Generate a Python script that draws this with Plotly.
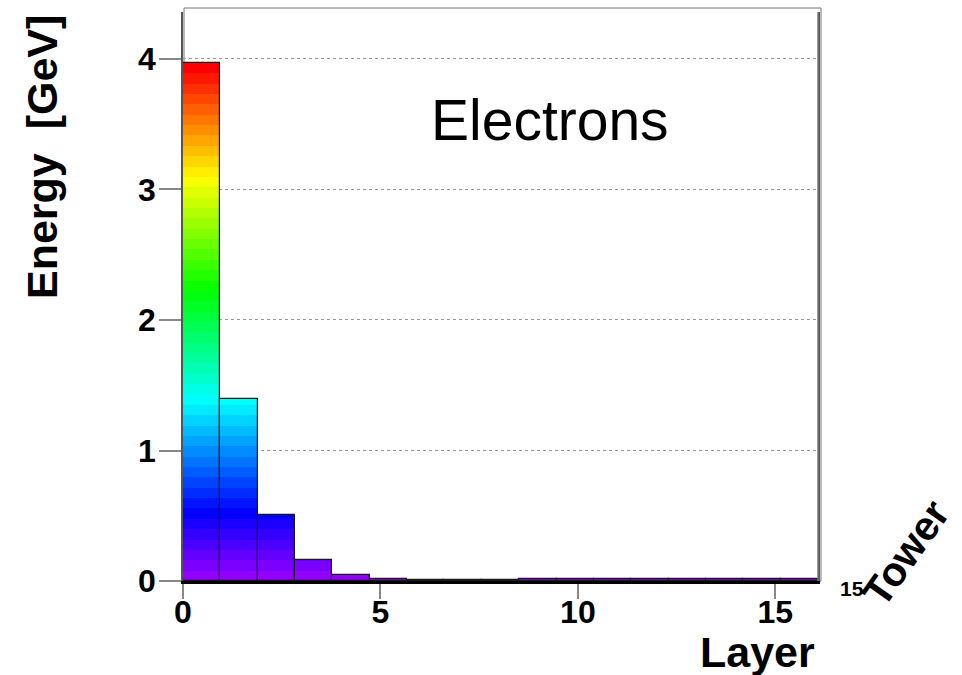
import colorsys
import numpy as np
import plotly.graph_objects as go

# Energy deposited per calorimeter layer (GeV), one bin per layer
layer_energy = [3.97, 1.395, 0.506, 0.161, 0.046, 0.014, 0.006, 0.004, 0.004,
                0.012, 0.012, 0.012, 0.012, 0.012, 0.012, 0.012, 0.012]
x_ticks = [0, 5, 10, 15]
y_ticks = [0, 1, 2, 3, 4]
tower_tick_label = "15"

X_MAX = 16.08
Y_MAX = 4.36
N_LEVELS = 50
FONT = "Liberation Sans, Arial, Helvetica, sans-serif"

values = np.array(layer_energy)
edges = np.linspace(0, X_MAX, len(values) + 1)
centers = 0.5 * (edges[:-1] + edges[1:])
width = edges[1] - edges[0]


def pretty_palette(i):
    # ROOT "pretty" palette: HLS hue from 280 down to 0, L=0.5, S=1
    hue = 280 - (i + 1) * (280 / N_LEVELS)
    r, g, b = colorsys.hls_to_rgb(hue / 360.0, 0.5, 1.0)
    return f"rgb({int(round(r*255))},{int(round(g*255))},{int(round(b*255))})"


fig = go.Figure()

# Colour bands: each bar is filled level by level according to its height
dz = values.max() / N_LEVELS
for k in range(N_LEVELS):
    lo = k * dz
    seg = np.clip(values - lo, 0, dz)
    mask = seg > 0
    if not mask.any():
        continue
    fig.add_trace(go.Bar(
        x=centers[mask], y=seg[mask], base=[lo] * int(mask.sum()),
        width=width, marker=dict(color=pretty_palette(k), line=dict(width=0)),
        hoverinfo="skip", showlegend=False,
    ))

# Outlines of the bins
fig.add_trace(go.Bar(
    x=centers, y=values, width=width,
    marker=dict(color="rgba(0,0,0,0)", line=dict(color="#1a1a1a", width=1.2)),
    showlegend=False, hoverinfo="skip",
))

W, H = 962, 675
L, R, T, B = 183, 818, 12, 581
pw, ph = R - L, B - T


def px(xp):
    return (xp - L) / pw


def py(yp):
    return (B - yp) / ph


annotations = [
    dict(text="Electrons", x=px(550), y=py(120), font=dict(size=57, color="black", family=FONT)),
    dict(text="<b>Energy  [GeV]</b>", x=px(42), y=py(157), textangle=-90,
         font=dict(size=43, color="black", family=FONT)),
    dict(text="<b>Layer</b>", x=px(817), y=py(652), xanchor="right",
         font=dict(size=43, color="black", family=FONT)),
    dict(text="<b>Tower</b>", x=px(906), y=py(553), textangle=-55,
         font=dict(size=41, color="black", family=FONT)),
    dict(text=f"<b>{tower_tick_label}</b>", x=px(852), y=py(589),
         font=dict(size=21, color="black", family=FONT)),
]
for a in annotations:
    a.update(xref="paper", yref="paper", showarrow=False)
    a.setdefault("xanchor", "center")
    a.setdefault("yanchor", "middle")

fig.update_layout(
    width=W, height=H,
    margin=dict(l=L, r=W - R, t=T, b=H - B, pad=0),
    paper_bgcolor="white", plot_bgcolor="white",
    barmode="overlay", bargap=0,
    showlegend=False,
    annotations=annotations,
    shapes=[dict(type="rect", xref="paper", yref="paper",
                 x0=px(184), x1=px(821), y0=0, y1=py(8),
                 line=dict(color="#777", width=1), layer="below")],
    xaxis=dict(
        range=[0, X_MAX], tickvals=x_ticks, ticktext=[f"<b>{t}</b>" for t in x_ticks],
        ticks="outside", ticklen=15, tickwidth=1.5, tickcolor="#888",
        ticklabelstandoff=-14,
        tickfont=dict(size=32, color="black", family=FONT),
        showline=True, linecolor="black", linewidth=2.5, mirror=False,
        showgrid=False, zeroline=False,
    ),
    yaxis=dict(
        range=[0, Y_MAX], tickvals=y_ticks, ticktext=[f"<b>{t}</b>" for t in y_ticks],
        ticks="outside", ticklen=22, tickwidth=1.5, tickcolor="#888",
        ticklabelstandoff=-3,
        tickfont=dict(size=32, color="black", family=FONT),
        showline=True, linecolor="#555", linewidth=1.5, mirror=True,
        showgrid=True, gridcolor="#999", griddash="dot", gridwidth=1,
        zeroline=False,
    ),
)
fig.add_shape(type="line", xref="paper", yref="paper", x0=1, x1=1, y0=0, y1=1,
              line=dict(color="#777", width=1.5))

fig.write_html("out.html")
